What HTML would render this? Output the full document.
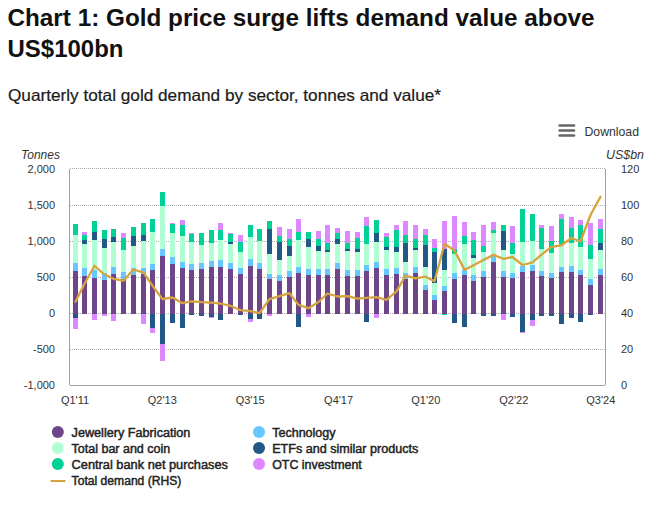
<!DOCTYPE html>
<html><head><meta charset="utf-8"><title>Chart 1: Gold price surge lifts demand value above US$100bn</title>
<style>
html,body{margin:0;padding:0;background:#fff;}
body{width:665px;height:511px;overflow:hidden;font-family:"Liberation Sans", sans-serif;}
svg{display:block;}
</style></head>
<body>
<svg width="665" height="511" viewBox="0 0 665 511">
<rect x="0" y="0" width="665" height="511" fill="#fff"/>
<line x1="70" y1="168.5" x2="605" y2="168.5" stroke="#ababab" stroke-width="1" stroke-dasharray="1,1"/>
<line x1="70" y1="205.5" x2="605" y2="205.5" stroke="#ababab" stroke-width="1" stroke-dasharray="1,1"/>
<line x1="70" y1="241.5" x2="605" y2="241.5" stroke="#ababab" stroke-width="1" stroke-dasharray="1,1"/>
<line x1="70" y1="277.5" x2="605" y2="277.5" stroke="#ababab" stroke-width="1" stroke-dasharray="1,1"/>
<line x1="70" y1="313.5" x2="605" y2="313.5" stroke="#ababab" stroke-width="1" stroke-dasharray="1,1"/>
<line x1="70" y1="349.5" x2="605" y2="349.5" stroke="#ababab" stroke-width="1" stroke-dasharray="1,1"/>
<rect x="73" y="271.0" width="5" height="43.0" fill="#6f4589"/>
<rect x="73" y="263.0" width="5" height="8.0" fill="#66c7ff"/>
<rect x="73" y="235.0" width="5" height="28.0" fill="#b0ffd4"/>
<rect x="73" y="224.0" width="5" height="11.0" fill="#00d297"/>
<rect x="73" y="314" width="5" height="4.0" fill="#225886"/>
<rect x="73" y="318.0" width="5" height="11.0" fill="#dd88ff"/>
<rect x="82" y="276.0" width="5" height="38.0" fill="#6f4589"/>
<rect x="82" y="268.0" width="5" height="8.0" fill="#66c7ff"/>
<rect x="82" y="244.0" width="5" height="24.0" fill="#b0ffd4"/>
<rect x="82" y="240.0" width="5" height="4.0" fill="#225886"/>
<rect x="82" y="235.0" width="5" height="5.0" fill="#00d297"/>
<rect x="82" y="232.0" width="5" height="3.0" fill="#dd88ff"/>
<rect x="92" y="278.0" width="5" height="36.0" fill="#6f4589"/>
<rect x="92" y="270.0" width="5" height="8.0" fill="#66c7ff"/>
<rect x="92" y="240.0" width="5" height="30.0" fill="#b0ffd4"/>
<rect x="92" y="232.0" width="5" height="8.0" fill="#225886"/>
<rect x="92" y="221.0" width="5" height="11.0" fill="#00d297"/>
<rect x="92" y="314" width="5" height="6.0" fill="#dd88ff"/>
<rect x="102" y="280.0" width="5" height="34.0" fill="#6f4589"/>
<rect x="102" y="273.0" width="5" height="7.0" fill="#66c7ff"/>
<rect x="102" y="248.0" width="5" height="25.0" fill="#b0ffd4"/>
<rect x="102" y="239.0" width="5" height="9.0" fill="#225886"/>
<rect x="102" y="230.0" width="5" height="9.0" fill="#00d297"/>
<rect x="102" y="314" width="5" height="2.0" fill="#dd88ff"/>
<rect x="111" y="274.0" width="5" height="40.0" fill="#6f4589"/>
<rect x="111" y="267.0" width="5" height="7.0" fill="#66c7ff"/>
<rect x="111" y="242.0" width="5" height="25.0" fill="#b0ffd4"/>
<rect x="111" y="237.0" width="5" height="5.0" fill="#225886"/>
<rect x="111" y="229.0" width="5" height="8.0" fill="#00d297"/>
<rect x="111" y="314" width="5" height="7.0" fill="#dd88ff"/>
<rect x="121" y="279.0" width="5" height="35.0" fill="#6f4589"/>
<rect x="121" y="272.0" width="5" height="7.0" fill="#66c7ff"/>
<rect x="121" y="250.0" width="5" height="22.0" fill="#b0ffd4"/>
<rect x="121" y="238.0" width="5" height="12.0" fill="#00d297"/>
<rect x="121" y="233.0" width="5" height="5.0" fill="#dd88ff"/>
<rect x="131" y="275.0" width="5" height="39.0" fill="#6f4589"/>
<rect x="131" y="268.0" width="5" height="7.0" fill="#66c7ff"/>
<rect x="131" y="246.0" width="5" height="22.0" fill="#b0ffd4"/>
<rect x="131" y="236.0" width="5" height="10.0" fill="#225886"/>
<rect x="131" y="227.0" width="5" height="9.0" fill="#00d297"/>
<rect x="141" y="274.0" width="5" height="40.0" fill="#6f4589"/>
<rect x="141" y="268.0" width="5" height="6.0" fill="#66c7ff"/>
<rect x="141" y="241.0" width="5" height="27.0" fill="#b0ffd4"/>
<rect x="141" y="235.0" width="5" height="6.0" fill="#225886"/>
<rect x="141" y="223.0" width="5" height="12.0" fill="#00d297"/>
<rect x="141" y="314" width="5" height="10.0" fill="#dd88ff"/>
<rect x="150" y="270.0" width="5" height="44.0" fill="#6f4589"/>
<rect x="150" y="264.0" width="5" height="6.0" fill="#66c7ff"/>
<rect x="150" y="232.0" width="5" height="32.0" fill="#b0ffd4"/>
<rect x="150" y="219.0" width="5" height="13.0" fill="#00d297"/>
<rect x="150" y="314" width="5" height="14.0" fill="#225886"/>
<rect x="150" y="328.0" width="5" height="5.0" fill="#dd88ff"/>
<rect x="160" y="256.0" width="5" height="58.0" fill="#6f4589"/>
<rect x="160" y="249.0" width="5" height="7.0" fill="#66c7ff"/>
<rect x="160" y="206.0" width="5" height="43.0" fill="#b0ffd4"/>
<rect x="160" y="192.0" width="5" height="14.0" fill="#00d297"/>
<rect x="160" y="314" width="5" height="30.0" fill="#225886"/>
<rect x="160" y="344.0" width="5" height="17.0" fill="#dd88ff"/>
<rect x="170" y="264.0" width="5" height="50.0" fill="#6f4589"/>
<rect x="170" y="257.0" width="5" height="7.0" fill="#66c7ff"/>
<rect x="170" y="233.0" width="5" height="24.0" fill="#b0ffd4"/>
<rect x="170" y="224.0" width="5" height="9.0" fill="#00d297"/>
<rect x="170" y="223.0" width="5" height="1.0" fill="#dd88ff"/>
<rect x="170" y="314" width="5" height="9.0" fill="#225886"/>
<rect x="180" y="268.0" width="5" height="46.0" fill="#6f4589"/>
<rect x="180" y="262.0" width="5" height="6.0" fill="#66c7ff"/>
<rect x="180" y="236.0" width="5" height="26.0" fill="#b0ffd4"/>
<rect x="180" y="225.0" width="5" height="11.0" fill="#00d297"/>
<rect x="180" y="220.0" width="5" height="5.0" fill="#dd88ff"/>
<rect x="180" y="314" width="5" height="14.0" fill="#225886"/>
<rect x="189" y="270.0" width="5" height="44.0" fill="#6f4589"/>
<rect x="189" y="264.0" width="5" height="6.0" fill="#66c7ff"/>
<rect x="189" y="242.0" width="5" height="22.0" fill="#b0ffd4"/>
<rect x="189" y="234.0" width="5" height="8.0" fill="#00d297"/>
<rect x="189" y="233.0" width="5" height="1.0" fill="#dd88ff"/>
<rect x="189" y="314" width="5" height="1.0" fill="#225886"/>
<rect x="199" y="269.0" width="5" height="45.0" fill="#6f4589"/>
<rect x="199" y="263.0" width="5" height="6.0" fill="#66c7ff"/>
<rect x="199" y="245.0" width="5" height="18.0" fill="#b0ffd4"/>
<rect x="199" y="233.0" width="5" height="12.0" fill="#00d297"/>
<rect x="199" y="314" width="5" height="2.0" fill="#225886"/>
<rect x="209" y="267.0" width="5" height="47.0" fill="#6f4589"/>
<rect x="209" y="261.0" width="5" height="6.0" fill="#66c7ff"/>
<rect x="209" y="243.0" width="5" height="18.0" fill="#b0ffd4"/>
<rect x="209" y="230.0" width="5" height="13.0" fill="#00d297"/>
<rect x="209" y="314" width="5" height="3.0" fill="#225886"/>
<rect x="209" y="317.0" width="5" height="1.0" fill="#dd88ff"/>
<rect x="218" y="267.0" width="5" height="47.0" fill="#6f4589"/>
<rect x="218" y="260.0" width="5" height="7.0" fill="#66c7ff"/>
<rect x="218" y="240.0" width="5" height="20.0" fill="#b0ffd4"/>
<rect x="218" y="230.0" width="5" height="10.0" fill="#00d297"/>
<rect x="218" y="223.0" width="5" height="7.0" fill="#dd88ff"/>
<rect x="218" y="314" width="5" height="6.0" fill="#225886"/>
<rect x="228" y="269.0" width="5" height="45.0" fill="#6f4589"/>
<rect x="228" y="263.0" width="5" height="6.0" fill="#66c7ff"/>
<rect x="228" y="244.0" width="5" height="19.0" fill="#b0ffd4"/>
<rect x="228" y="242.0" width="5" height="2.0" fill="#225886"/>
<rect x="228" y="234.0" width="5" height="8.0" fill="#00d297"/>
<rect x="228" y="233.0" width="5" height="1.0" fill="#dd88ff"/>
<rect x="238" y="274.0" width="5" height="40.0" fill="#6f4589"/>
<rect x="238" y="268.0" width="5" height="6.0" fill="#66c7ff"/>
<rect x="238" y="252.0" width="5" height="16.0" fill="#b0ffd4"/>
<rect x="238" y="242.0" width="5" height="10.0" fill="#00d297"/>
<rect x="238" y="235.0" width="5" height="7.0" fill="#dd88ff"/>
<rect x="238" y="314" width="5" height="1.0" fill="#225886"/>
<rect x="248" y="266.0" width="5" height="48.0" fill="#6f4589"/>
<rect x="248" y="259.0" width="5" height="7.0" fill="#66c7ff"/>
<rect x="248" y="237.0" width="5" height="22.0" fill="#b0ffd4"/>
<rect x="248" y="225.0" width="5" height="12.0" fill="#00d297"/>
<rect x="248" y="314" width="5" height="5.0" fill="#225886"/>
<rect x="248" y="319.0" width="5" height="3.0" fill="#dd88ff"/>
<rect x="257" y="269.0" width="5" height="45.0" fill="#6f4589"/>
<rect x="257" y="263.0" width="5" height="6.0" fill="#66c7ff"/>
<rect x="257" y="241.0" width="5" height="22.0" fill="#b0ffd4"/>
<rect x="257" y="229.0" width="5" height="12.0" fill="#00d297"/>
<rect x="257" y="314" width="5" height="5.0" fill="#225886"/>
<rect x="267" y="279.0" width="5" height="35.0" fill="#6f4589"/>
<rect x="267" y="274.0" width="5" height="5.0" fill="#66c7ff"/>
<rect x="267" y="254.0" width="5" height="20.0" fill="#b0ffd4"/>
<rect x="267" y="229.0" width="5" height="25.0" fill="#225886"/>
<rect x="267" y="221.0" width="5" height="8.0" fill="#00d297"/>
<rect x="267" y="314" width="5" height="2.0" fill="#dd88ff"/>
<rect x="277" y="281.0" width="5" height="33.0" fill="#6f4589"/>
<rect x="277" y="275.0" width="5" height="6.0" fill="#66c7ff"/>
<rect x="277" y="260.0" width="5" height="15.0" fill="#b0ffd4"/>
<rect x="277" y="242.0" width="5" height="18.0" fill="#225886"/>
<rect x="277" y="236.0" width="5" height="6.0" fill="#00d297"/>
<rect x="277" y="227.0" width="5" height="9.0" fill="#dd88ff"/>
<rect x="287" y="277.0" width="5" height="37.0" fill="#6f4589"/>
<rect x="287" y="271.0" width="5" height="6.0" fill="#66c7ff"/>
<rect x="287" y="256.0" width="5" height="15.0" fill="#b0ffd4"/>
<rect x="287" y="246.0" width="5" height="10.0" fill="#225886"/>
<rect x="287" y="239.0" width="5" height="7.0" fill="#00d297"/>
<rect x="287" y="229.0" width="5" height="10.0" fill="#dd88ff"/>
<rect x="296" y="273.0" width="5" height="41.0" fill="#6f4589"/>
<rect x="296" y="267.0" width="5" height="6.0" fill="#66c7ff"/>
<rect x="296" y="240.0" width="5" height="27.0" fill="#b0ffd4"/>
<rect x="296" y="232.0" width="5" height="8.0" fill="#00d297"/>
<rect x="296" y="219.0" width="5" height="13.0" fill="#dd88ff"/>
<rect x="296" y="314" width="5" height="13.0" fill="#225886"/>
<rect x="306" y="275.0" width="5" height="39.0" fill="#6f4589"/>
<rect x="306" y="269.0" width="5" height="6.0" fill="#66c7ff"/>
<rect x="306" y="247.0" width="5" height="22.0" fill="#b0ffd4"/>
<rect x="306" y="239.0" width="5" height="8.0" fill="#225886"/>
<rect x="306" y="232.0" width="5" height="7.0" fill="#00d297"/>
<rect x="306" y="314" width="5" height="3.0" fill="#dd88ff"/>
<rect x="316" y="275.0" width="5" height="39.0" fill="#6f4589"/>
<rect x="316" y="269.0" width="5" height="6.0" fill="#66c7ff"/>
<rect x="316" y="251.0" width="5" height="18.0" fill="#b0ffd4"/>
<rect x="316" y="246.0" width="5" height="5.0" fill="#225886"/>
<rect x="316" y="239.0" width="5" height="7.0" fill="#00d297"/>
<rect x="316" y="231.0" width="5" height="8.0" fill="#dd88ff"/>
<rect x="325" y="275.0" width="5" height="39.0" fill="#6f4589"/>
<rect x="325" y="269.0" width="5" height="6.0" fill="#66c7ff"/>
<rect x="325" y="252.0" width="5" height="17.0" fill="#b0ffd4"/>
<rect x="325" y="250.0" width="5" height="2.0" fill="#225886"/>
<rect x="325" y="243.0" width="5" height="7.0" fill="#00d297"/>
<rect x="325" y="225.0" width="5" height="18.0" fill="#dd88ff"/>
<rect x="335" y="269.0" width="5" height="45.0" fill="#6f4589"/>
<rect x="335" y="263.0" width="5" height="6.0" fill="#66c7ff"/>
<rect x="335" y="244.0" width="5" height="19.0" fill="#b0ffd4"/>
<rect x="335" y="239.0" width="5" height="5.0" fill="#225886"/>
<rect x="335" y="233.0" width="5" height="6.0" fill="#00d297"/>
<rect x="335" y="228.0" width="5" height="5.0" fill="#dd88ff"/>
<rect x="345" y="276.0" width="5" height="38.0" fill="#6f4589"/>
<rect x="345" y="270.0" width="5" height="6.0" fill="#66c7ff"/>
<rect x="345" y="251.0" width="5" height="19.0" fill="#b0ffd4"/>
<rect x="345" y="249.0" width="5" height="2.0" fill="#225886"/>
<rect x="345" y="243.0" width="5" height="6.0" fill="#00d297"/>
<rect x="345" y="231.0" width="5" height="12.0" fill="#dd88ff"/>
<rect x="355" y="276.0" width="5" height="38.0" fill="#6f4589"/>
<rect x="355" y="270.0" width="5" height="6.0" fill="#66c7ff"/>
<rect x="355" y="252.0" width="5" height="18.0" fill="#b0ffd4"/>
<rect x="355" y="249.0" width="5" height="3.0" fill="#225886"/>
<rect x="355" y="238.0" width="5" height="11.0" fill="#00d297"/>
<rect x="355" y="232.0" width="5" height="6.0" fill="#dd88ff"/>
<rect x="364" y="271.0" width="5" height="43.0" fill="#6f4589"/>
<rect x="364" y="265.0" width="5" height="6.0" fill="#66c7ff"/>
<rect x="364" y="244.0" width="5" height="21.0" fill="#b0ffd4"/>
<rect x="364" y="226.0" width="5" height="18.0" fill="#00d297"/>
<rect x="364" y="217.0" width="5" height="9.0" fill="#dd88ff"/>
<rect x="364" y="314" width="5" height="8.0" fill="#225886"/>
<rect x="374" y="268.0" width="5" height="46.0" fill="#6f4589"/>
<rect x="374" y="262.0" width="5" height="6.0" fill="#66c7ff"/>
<rect x="374" y="242.0" width="5" height="20.0" fill="#b0ffd4"/>
<rect x="374" y="233.0" width="5" height="9.0" fill="#225886"/>
<rect x="374" y="220.0" width="5" height="13.0" fill="#00d297"/>
<rect x="374" y="314" width="5" height="4.0" fill="#dd88ff"/>
<rect x="384" y="275.0" width="5" height="39.0" fill="#6f4589"/>
<rect x="384" y="269.0" width="5" height="6.0" fill="#66c7ff"/>
<rect x="384" y="250.0" width="5" height="19.0" fill="#b0ffd4"/>
<rect x="384" y="247.0" width="5" height="3.0" fill="#225886"/>
<rect x="384" y="237.0" width="5" height="10.0" fill="#00d297"/>
<rect x="384" y="233.0" width="5" height="4.0" fill="#dd88ff"/>
<rect x="394" y="274.0" width="5" height="40.0" fill="#6f4589"/>
<rect x="394" y="268.0" width="5" height="6.0" fill="#66c7ff"/>
<rect x="394" y="252.0" width="5" height="16.0" fill="#b0ffd4"/>
<rect x="394" y="247.0" width="5" height="5.0" fill="#225886"/>
<rect x="394" y="230.0" width="5" height="17.0" fill="#00d297"/>
<rect x="394" y="225.0" width="5" height="5.0" fill="#dd88ff"/>
<rect x="403" y="279.0" width="5" height="35.0" fill="#6f4589"/>
<rect x="403" y="273.0" width="5" height="6.0" fill="#66c7ff"/>
<rect x="403" y="262.0" width="5" height="11.0" fill="#b0ffd4"/>
<rect x="403" y="243.0" width="5" height="19.0" fill="#225886"/>
<rect x="403" y="235.0" width="5" height="8.0" fill="#00d297"/>
<rect x="403" y="221.0" width="5" height="14.0" fill="#dd88ff"/>
<rect x="413" y="273.0" width="5" height="41.0" fill="#6f4589"/>
<rect x="413" y="267.0" width="5" height="6.0" fill="#66c7ff"/>
<rect x="413" y="250.0" width="5" height="17.0" fill="#b0ffd4"/>
<rect x="413" y="248.0" width="5" height="2.0" fill="#225886"/>
<rect x="413" y="239.0" width="5" height="9.0" fill="#00d297"/>
<rect x="413" y="225.0" width="5" height="14.0" fill="#dd88ff"/>
<rect x="423" y="290.0" width="5" height="24.0" fill="#6f4589"/>
<rect x="423" y="285.0" width="5" height="5.0" fill="#66c7ff"/>
<rect x="423" y="267.0" width="5" height="18.0" fill="#b0ffd4"/>
<rect x="423" y="245.0" width="5" height="22.0" fill="#225886"/>
<rect x="423" y="235.0" width="5" height="10.0" fill="#00d297"/>
<rect x="423" y="229.0" width="5" height="6.0" fill="#dd88ff"/>
<rect x="432" y="300.0" width="5" height="14.0" fill="#6f4589"/>
<rect x="432" y="295.0" width="5" height="5.0" fill="#66c7ff"/>
<rect x="432" y="283.0" width="5" height="12.0" fill="#b0ffd4"/>
<rect x="432" y="252.0" width="5" height="31.0" fill="#225886"/>
<rect x="432" y="248.0" width="5" height="4.0" fill="#00d297"/>
<rect x="432" y="239.0" width="5" height="9.0" fill="#dd88ff"/>
<rect x="442" y="291.0" width="5" height="23.0" fill="#6f4589"/>
<rect x="442" y="286.0" width="5" height="5.0" fill="#66c7ff"/>
<rect x="442" y="270.0" width="5" height="16.0" fill="#b0ffd4"/>
<rect x="442" y="249.0" width="5" height="21.0" fill="#225886"/>
<rect x="442" y="221.0" width="5" height="28.0" fill="#dd88ff"/>
<rect x="442" y="314" width="5" height="1.0" fill="#00d297"/>
<rect x="452" y="279.0" width="5" height="35.0" fill="#6f4589"/>
<rect x="452" y="273.0" width="5" height="6.0" fill="#66c7ff"/>
<rect x="452" y="254.0" width="5" height="19.0" fill="#b0ffd4"/>
<rect x="452" y="249.0" width="5" height="5.0" fill="#00d297"/>
<rect x="452" y="216.0" width="5" height="33.0" fill="#dd88ff"/>
<rect x="452" y="314" width="5" height="9.0" fill="#225886"/>
<rect x="462" y="275.0" width="5" height="39.0" fill="#6f4589"/>
<rect x="462" y="270.0" width="5" height="5.0" fill="#66c7ff"/>
<rect x="462" y="244.0" width="5" height="26.0" fill="#b0ffd4"/>
<rect x="462" y="236.0" width="5" height="8.0" fill="#00d297"/>
<rect x="462" y="222.0" width="5" height="14.0" fill="#dd88ff"/>
<rect x="462" y="314" width="5" height="13.0" fill="#225886"/>
<rect x="471" y="281.0" width="5" height="33.0" fill="#6f4589"/>
<rect x="471" y="275.0" width="5" height="6.0" fill="#66c7ff"/>
<rect x="471" y="258.0" width="5" height="17.0" fill="#b0ffd4"/>
<rect x="471" y="255.0" width="5" height="3.0" fill="#225886"/>
<rect x="471" y="240.0" width="5" height="15.0" fill="#00d297"/>
<rect x="471" y="232.0" width="5" height="8.0" fill="#dd88ff"/>
<rect x="481" y="277.0" width="5" height="37.0" fill="#6f4589"/>
<rect x="481" y="271.0" width="5" height="6.0" fill="#66c7ff"/>
<rect x="481" y="252.0" width="5" height="19.0" fill="#b0ffd4"/>
<rect x="481" y="246.0" width="5" height="6.0" fill="#00d297"/>
<rect x="481" y="225.0" width="5" height="21.0" fill="#dd88ff"/>
<rect x="481" y="314" width="5" height="2.0" fill="#225886"/>
<rect x="491" y="262.0" width="5" height="52.0" fill="#6f4589"/>
<rect x="491" y="256.0" width="5" height="6.0" fill="#66c7ff"/>
<rect x="491" y="233.0" width="5" height="23.0" fill="#b0ffd4"/>
<rect x="491" y="230.0" width="5" height="3.0" fill="#00d297"/>
<rect x="491" y="222.0" width="5" height="8.0" fill="#dd88ff"/>
<rect x="491" y="314" width="5" height="2.0" fill="#225886"/>
<rect x="501" y="277.0" width="5" height="37.0" fill="#6f4589"/>
<rect x="501" y="271.0" width="5" height="6.0" fill="#66c7ff"/>
<rect x="501" y="250.0" width="5" height="21.0" fill="#b0ffd4"/>
<rect x="501" y="231.0" width="5" height="19.0" fill="#225886"/>
<rect x="501" y="225.0" width="5" height="6.0" fill="#00d297"/>
<rect x="501" y="314" width="5" height="6.0" fill="#dd88ff"/>
<rect x="510" y="278.0" width="5" height="36.0" fill="#6f4589"/>
<rect x="510" y="273.0" width="5" height="5.0" fill="#66c7ff"/>
<rect x="510" y="254.0" width="5" height="19.0" fill="#b0ffd4"/>
<rect x="510" y="243.0" width="5" height="11.0" fill="#00d297"/>
<rect x="510" y="226.0" width="5" height="17.0" fill="#dd88ff"/>
<rect x="510" y="314" width="5" height="3.0" fill="#225886"/>
<rect x="520" y="272.0" width="5" height="42.0" fill="#6f4589"/>
<rect x="520" y="266.0" width="5" height="6.0" fill="#66c7ff"/>
<rect x="520" y="242.0" width="5" height="24.0" fill="#b0ffd4"/>
<rect x="520" y="209.0" width="5" height="33.0" fill="#00d297"/>
<rect x="520" y="314" width="5" height="18.0" fill="#225886"/>
<rect x="520" y="332.0" width="5" height="1.0" fill="#dd88ff"/>
<rect x="530" y="271.0" width="5" height="43.0" fill="#6f4589"/>
<rect x="530" y="265.0" width="5" height="6.0" fill="#66c7ff"/>
<rect x="530" y="241.0" width="5" height="24.0" fill="#b0ffd4"/>
<rect x="530" y="214.0" width="5" height="27.0" fill="#00d297"/>
<rect x="530" y="314" width="5" height="6.0" fill="#225886"/>
<rect x="530" y="320.0" width="5" height="6.0" fill="#dd88ff"/>
<rect x="539" y="276.0" width="5" height="38.0" fill="#6f4589"/>
<rect x="539" y="271.0" width="5" height="5.0" fill="#66c7ff"/>
<rect x="539" y="249.0" width="5" height="22.0" fill="#b0ffd4"/>
<rect x="539" y="228.0" width="5" height="21.0" fill="#00d297"/>
<rect x="539" y="225.0" width="5" height="3.0" fill="#dd88ff"/>
<rect x="539" y="314" width="5" height="2.0" fill="#225886"/>
<rect x="549" y="278.0" width="5" height="36.0" fill="#6f4589"/>
<rect x="549" y="273.0" width="5" height="5.0" fill="#66c7ff"/>
<rect x="549" y="253.0" width="5" height="20.0" fill="#b0ffd4"/>
<rect x="549" y="241.0" width="5" height="12.0" fill="#00d297"/>
<rect x="549" y="226.0" width="5" height="15.0" fill="#dd88ff"/>
<rect x="549" y="314" width="5" height="2.0" fill="#225886"/>
<rect x="559" y="272.0" width="5" height="42.0" fill="#6f4589"/>
<rect x="559" y="267.0" width="5" height="5.0" fill="#66c7ff"/>
<rect x="559" y="245.0" width="5" height="22.0" fill="#b0ffd4"/>
<rect x="559" y="219.0" width="5" height="26.0" fill="#00d297"/>
<rect x="559" y="214.0" width="5" height="5.0" fill="#dd88ff"/>
<rect x="559" y="314" width="5" height="10.0" fill="#225886"/>
<rect x="569" y="272.0" width="5" height="42.0" fill="#6f4589"/>
<rect x="569" y="266.0" width="5" height="6.0" fill="#66c7ff"/>
<rect x="569" y="243.0" width="5" height="23.0" fill="#b0ffd4"/>
<rect x="569" y="228.0" width="5" height="15.0" fill="#00d297"/>
<rect x="569" y="217.0" width="5" height="11.0" fill="#dd88ff"/>
<rect x="569" y="314" width="5" height="4.0" fill="#225886"/>
<rect x="578" y="275.0" width="5" height="39.0" fill="#6f4589"/>
<rect x="578" y="270.0" width="5" height="5.0" fill="#66c7ff"/>
<rect x="578" y="247.0" width="5" height="23.0" fill="#b0ffd4"/>
<rect x="578" y="225.0" width="5" height="22.0" fill="#00d297"/>
<rect x="578" y="220.0" width="5" height="5.0" fill="#dd88ff"/>
<rect x="578" y="314" width="5" height="8.0" fill="#225886"/>
<rect x="588" y="285.0" width="5" height="29.0" fill="#6f4589"/>
<rect x="588" y="279.0" width="5" height="6.0" fill="#66c7ff"/>
<rect x="588" y="259.0" width="5" height="20.0" fill="#b0ffd4"/>
<rect x="588" y="245.0" width="5" height="14.0" fill="#00d297"/>
<rect x="588" y="223.0" width="5" height="22.0" fill="#dd88ff"/>
<rect x="588" y="314" width="5" height="1.0" fill="#225886"/>
<rect x="598" y="275.0" width="5" height="39.0" fill="#6f4589"/>
<rect x="598" y="269.0" width="5" height="6.0" fill="#66c7ff"/>
<rect x="598" y="250.0" width="5" height="19.0" fill="#b0ffd4"/>
<rect x="598" y="243.0" width="5" height="7.0" fill="#225886"/>
<rect x="598" y="229.0" width="5" height="14.0" fill="#00d297"/>
<rect x="598" y="219.0" width="5" height="10.0" fill="#dd88ff"/>
<line x1="69.5" y1="169" x2="69.5" y2="385" stroke="#a0a0a0" stroke-width="1"/>
<line x1="605.5" y1="169" x2="605.5" y2="385" stroke="#a0a0a0" stroke-width="1"/>
<line x1="70" y1="385.5" x2="605" y2="385.5" stroke="#a0a0a0" stroke-width="1"/>
<polyline points="75.50,301.8 84.50,283.8 94.50,265.8 104.50,274.5 113.50,278.8 123.50,280.7 133.50,269.5 143.50,272.6 152.50,285.7 162.50,299.1 172.50,297.5 182.50,303.2 191.50,301.3 201.50,302.2 211.50,302.6 220.50,303.5 230.50,305.8 240.50,310.2 250.50,311.2 259.50,313.1 269.50,299.1 279.50,296.1 289.50,293.2 298.50,304.9 308.50,308.2 318.50,302.0 327.50,293.5 337.50,296.5 347.50,296.1 357.50,298.7 366.50,297.9 376.50,297.1 386.50,299.9 396.50,291.4 405.50,275.6 415.50,278.4 425.50,276.7 434.50,281.3 444.50,243.8 454.50,250.5 464.50,269.9 473.50,265.2 483.50,259.9 493.50,254.9 503.50,258.8 512.50,257.0 522.50,265.0 532.50,262.3 541.50,254.6 551.50,246.8 561.50,245.3 571.50,238.0 580.50,241.5 590.50,215.0 600.50,196.7" fill="none" stroke="#d6a43e" stroke-width="2.3" stroke-linejoin="round" stroke-linecap="round"/>
<text x="7.5" y="25.6" font-family="'Liberation Sans', sans-serif" font-weight="bold" font-size="24" fill="#111" textLength="587" lengthAdjust="spacingAndGlyphs">Chart 1: Gold price surge lifts demand value above</text>
<text x="7.5" y="57.1" font-family="'Liberation Sans', sans-serif" font-weight="bold" font-size="24" fill="#111" textLength="116" lengthAdjust="spacingAndGlyphs">US$100bn</text>
<text x="8" y="101.4" font-family="'Liberation Sans', sans-serif" font-size="16.5" fill="#1a1a1a" stroke="#1a1a1a" stroke-width="0.2" textLength="433" lengthAdjust="spacingAndGlyphs">Quarterly total gold demand by sector, tonnes and value*</text>
<line x1="559.6" y1="125.5" x2="574.0" y2="125.5" stroke="#666" stroke-width="2.5" stroke-linecap="round"/>
<line x1="559.6" y1="130.5" x2="574.0" y2="130.5" stroke="#666" stroke-width="2.5" stroke-linecap="round"/>
<line x1="559.6" y1="135.5" x2="574.0" y2="135.5" stroke="#666" stroke-width="2.5" stroke-linecap="round"/>
<text x="584.5" y="135.7" font-family="'Liberation Sans', sans-serif" font-size="12.4" fill="#333" textLength="54.5" lengthAdjust="spacingAndGlyphs">Download</text>
<text x="21" y="158.8" font-family="'Liberation Sans', sans-serif" font-style="italic" font-size="12" fill="#333">Tonnes</text>
<text x="606" y="158.8" font-family="'Liberation Sans', sans-serif" font-style="italic" font-size="12" fill="#333" textLength="38" lengthAdjust="spacingAndGlyphs">US$bn</text>
<text x="55" y="172.50" text-anchor="end" font-family="'Liberation Sans', sans-serif" font-size="11" fill="#333">2,000</text>
<text x="621" y="172.50" font-family="'Liberation Sans', sans-serif" font-size="11" fill="#333">120</text>
<text x="55" y="208.53" text-anchor="end" font-family="'Liberation Sans', sans-serif" font-size="11" fill="#333">1,500</text>
<text x="621" y="208.53" font-family="'Liberation Sans', sans-serif" font-size="11" fill="#333">100</text>
<text x="55" y="244.56" text-anchor="end" font-family="'Liberation Sans', sans-serif" font-size="11" fill="#333">1,000</text>
<text x="621" y="244.56" font-family="'Liberation Sans', sans-serif" font-size="11" fill="#333">80</text>
<text x="55" y="280.59" text-anchor="end" font-family="'Liberation Sans', sans-serif" font-size="11" fill="#333">500</text>
<text x="621" y="280.59" font-family="'Liberation Sans', sans-serif" font-size="11" fill="#333">60</text>
<text x="55" y="316.62" text-anchor="end" font-family="'Liberation Sans', sans-serif" font-size="11" fill="#333">0</text>
<text x="621" y="316.62" font-family="'Liberation Sans', sans-serif" font-size="11" fill="#333">40</text>
<text x="55" y="352.65" text-anchor="end" font-family="'Liberation Sans', sans-serif" font-size="11" fill="#333">-500</text>
<text x="621" y="352.65" font-family="'Liberation Sans', sans-serif" font-size="11" fill="#333">20</text>
<text x="55" y="388.68" text-anchor="end" font-family="'Liberation Sans', sans-serif" font-size="11" fill="#333">-1,000</text>
<text x="621" y="388.68" font-family="'Liberation Sans', sans-serif" font-size="11" fill="#333">0</text>
<text x="75.0" y="403.7" text-anchor="middle" font-family="'Liberation Sans', sans-serif" font-size="11" fill="#333">Q1'11</text>
<text x="162.3" y="403.7" text-anchor="middle" font-family="'Liberation Sans', sans-serif" font-size="11" fill="#333">Q2'13</text>
<text x="250.2" y="403.7" text-anchor="middle" font-family="'Liberation Sans', sans-serif" font-size="11" fill="#333">Q3'15</text>
<text x="338.6" y="403.7" text-anchor="middle" font-family="'Liberation Sans', sans-serif" font-size="11" fill="#333">Q4'17</text>
<text x="425.8" y="403.7" text-anchor="middle" font-family="'Liberation Sans', sans-serif" font-size="11" fill="#333">Q1'20</text>
<text x="513.8" y="403.7" text-anchor="middle" font-family="'Liberation Sans', sans-serif" font-size="11" fill="#333">Q2'22</text>
<text x="600.8" y="403.7" text-anchor="middle" font-family="'Liberation Sans', sans-serif" font-size="11" fill="#333">Q3'24</text>
<circle cx="57.8" cy="432.0" r="6" fill="#6f4589"/>
<text x="71.6" y="436.6" font-family="'Liberation Sans', sans-serif" font-size="12" fill="#222" stroke="#222" stroke-width="0.45" textLength="118.8" lengthAdjust="spacingAndGlyphs">Jewellery Fabrication</text>
<circle cx="57.8" cy="448.0" r="6" fill="#b0ffd4"/>
<text x="71.6" y="452.6" font-family="'Liberation Sans', sans-serif" font-size="12" fill="#222" stroke="#222" stroke-width="0.45" textLength="98.6" lengthAdjust="spacingAndGlyphs">Total bar and coin</text>
<circle cx="57.8" cy="464.0" r="6" fill="#00d297"/>
<text x="71.6" y="468.6" font-family="'Liberation Sans', sans-serif" font-size="12" fill="#222" stroke="#222" stroke-width="0.45" textLength="156.4" lengthAdjust="spacingAndGlyphs">Central bank net purchases</text>
<circle cx="259.0" cy="432.0" r="6" fill="#66c7ff"/>
<text x="272.2" y="436.6" font-family="'Liberation Sans', sans-serif" font-size="12" fill="#222" stroke="#222" stroke-width="0.45" textLength="63.4" lengthAdjust="spacingAndGlyphs">Technology</text>
<circle cx="259.0" cy="448.0" r="6" fill="#225886"/>
<text x="272.2" y="452.6" font-family="'Liberation Sans', sans-serif" font-size="12" fill="#222" stroke="#222" stroke-width="0.45" textLength="146.1" lengthAdjust="spacingAndGlyphs">ETFs and similar products</text>
<circle cx="259.0" cy="464.0" r="6" fill="#dd88ff"/>
<text x="272.2" y="468.6" font-family="'Liberation Sans', sans-serif" font-size="12" fill="#222" stroke="#222" stroke-width="0.45" textLength="89.6" lengthAdjust="spacingAndGlyphs">OTC investment</text>
<line x1="50.5" y1="481" x2="65.5" y2="481" stroke="#d6a43e" stroke-width="2"/>
<text x="71.6" y="484.5" font-family="'Liberation Sans', sans-serif" font-size="12" fill="#222" stroke="#222" stroke-width="0.45" textLength="109.8" lengthAdjust="spacingAndGlyphs">Total demand (RHS)</text>
</svg>
</body></html>
